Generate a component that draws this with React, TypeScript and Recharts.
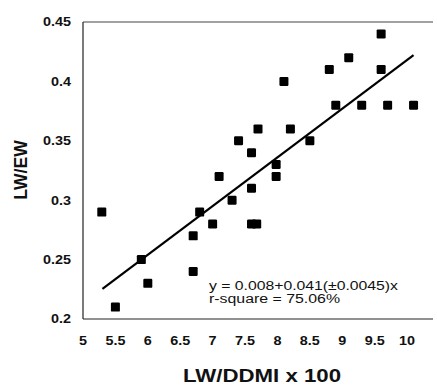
import React from 'react';
import { ScatterChart, Scatter, XAxis, YAxis, ReferenceLine, Customized } from 'recharts';

// LW/DDMI x 100
const xValues = [5.29, 5.5, 5.9, 6.0, 6.7, 6.7, 6.8, 7.0, 7.1, 7.3, 7.4, 7.6, 7.6, 7.6, 7.68, 7.7, 7.98, 7.98, 8.1, 8.2, 8.5, 8.8, 8.9, 9.1, 9.3, 9.6, 9.6, 9.7, 10.1];
// LW/EW
const yValues = [0.29, 0.21, 0.25, 0.23, 0.24, 0.27, 0.29, 0.28, 0.32, 0.30, 0.35, 0.34, 0.31, 0.28, 0.28, 0.36, 0.32, 0.33, 0.40, 0.36, 0.35, 0.41, 0.38, 0.42, 0.38, 0.44, 0.41, 0.38, 0.38];

const xTicks = [5, 5.5, 6, 6.5, 7, 7.5, 8, 8.5, 9, 9.5, 10];
const yTicks = [0.2, 0.25, 0.3, 0.35, 0.4, 0.45];

const fitIntercept = 0.008;
const fitSlope = 0.041;
const fitRange = [5.3, 10.1];

const equationText = 'y = 0.008+0.041(\u00B10.0045)x';
const rSquareText = 'r-square = 75.06%';
const xTitle = 'LW/DDMI x 100';
const yTitle = 'LW/EW';

const points = xValues.map((x, i) => ({ x, y: yValues[i] }));
const fitSegment = fitRange.map((x) => ({ x, y: fitIntercept + fitSlope * x }));

const FONT = '"Liberation Sans", Arial, sans-serif';

const Square = (props: any) => {
  const { cx, cy } = props;
  if (cx == null || cy == null) return null;
  return <rect x={cx - 4.5} y={cy - 4.5} width={9} height={9} rx={1.2} fill="#000" />;
};

const YTick = (props: any) => {
  const { x, y, payload } = props;
  return (
    <g transform={`translate(${x},${y})`}>
      <text transform="scale(1.2,1)" textAnchor="end" dy="0.36em" fontSize={12} fontWeight="bold" fill="#111" fontFamily={FONT}>
        {String(payload.value)}
      </text>
    </g>
  );
};

const XTick = (props: any) => {
  const { x, y, payload } = props;
  return (
    <g transform={`translate(${x},${y})`}>
      <text transform="scale(1.2,1)" textAnchor="middle" dy="0.71em" fontSize={12} fontWeight="bold" fill="#111" fontFamily={FONT}>
        {String(payload.value)}
      </text>
    </g>
  );
};

const Annotations = () => (
  <g fontFamily={FONT}>
    <text x={209} y={290} fontSize={12} fill="#111" textLength={189} lengthAdjust="spacingAndGlyphs">
      {equationText}
    </text>
    <text x={209} y={303} fontSize={12} fill="#111" textLength={131} lengthAdjust="spacingAndGlyphs">
      {rSquareText}
    </text>
    <text x={183} y={382} fontSize={19} fontWeight="bold" fill="#111" textLength={158} lengthAdjust="spacingAndGlyphs">
      {xTitle}
    </text>
    <text
      transform="translate(27,170) rotate(-90)"
      textAnchor="middle"
      fontSize={17.5}
      fontWeight="bold"
      fill="#111"
    >
      {yTitle}
    </text>
  </g>
);

export default function App() {
  return (
    <div style={{ position: 'absolute', left: 0, top: 0, width: 437, height: 385, background: '#fff' }}>
      <ScatterChart width={437} height={385} margin={{ top: 22, right: 4, bottom: 0, left: 0 }}>
        <XAxis
          type="number"
          dataKey="x"
          domain={[5, 10.4]}
          ticks={xTicks}
          height={66}
          tickSize={0}
          tickMargin={17}
          tickLine={false}
          axisLine={{ stroke: '#222', strokeWidth: 1.2 }}
          tick={<XTick />}
          interval={0}
          allowDataOverflow
        />
        <YAxis
          type="number"
          dataKey="y"
          domain={[0.2, 0.45]}
          ticks={yTicks}
          width={83}
          tickSize={0}
          tickMargin={12}
          tickLine={false}
          axisLine={{ stroke: '#222', strokeWidth: 1.2 }}
          tick={<YTick />}
          interval={0}
          allowDataOverflow
        />
        <ReferenceLine y={0.45} stroke="#444" strokeWidth={1.2} ifOverflow="extendDomain" />
        <ReferenceLine segment={fitSegment} stroke="#000" strokeWidth={2.2} />
        <Scatter data={points} shape={<Square />} isAnimationActive={false} />
        <Customized component={<Annotations />} />
      </ScatterChart>
    </div>
  );
}
